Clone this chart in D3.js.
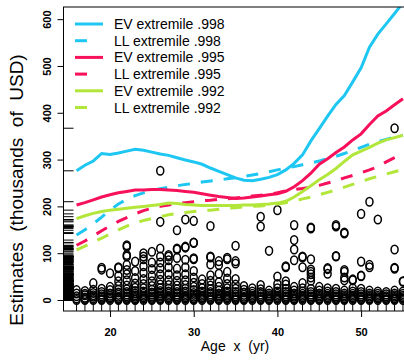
<!DOCTYPE html>
<html>
<head>
<meta charset="utf-8">
<script src="https://cdn.jsdelivr.net/npm/d3@7"></script>
<style>
  body { margin: 0; background: #fff; }
  svg { display: block; font-family: "Liberation Sans", Arial, sans-serif; }
</style>
</head>
<body>
<div id="chart"></div>
<script>
const width = 404;
const height = 364;

// ages of the fitted curves
const ages = d3.range(16, 56);

const ev998 = [276, 288, 297, 313, 311, 314, 318, 322, 320, 316, 312, 309, 304, 299, 295, 290, 282, 275, 268, 261,
  256, 255, 258, 262, 268, 278, 292, 310, 340, 366, 393, 418, 437, 466, 496, 540, 568, 590, 612, 635];
const ll998 = [139, 150, 163, 177, 192, 205, 215, 223, 229, 234, 238, 241, 244, 247, 249, 252, 254, 256, 259, 261,
  264, 267, 270, 274, 278, 282, 285, 289, 293, 297, 302, 307, 313, 319, 326, 333, 338, 343, 348, 352];
const ev995 = [203, 208, 214, 220, 225, 229, 232, 235, 235, 236, 236, 235, 234, 232, 230, 227, 224, 221, 219, 217,
  218, 220, 222, 225, 227, 232, 242, 255, 271, 290, 302, 315, 327, 342, 355, 375, 393, 404, 417, 430];
const ll995 = [117, 126, 137, 148, 158, 168, 176, 184, 191, 196, 200, 203, 206, 208, 210, 212, 213, 215, 216, 218,
  220, 222, 224, 226, 229, 233, 236, 238, 241, 245, 250, 255, 261, 266, 272, 278, 285, 295, 304, 312];
const ev992 = [174, 180, 185, 189, 192, 194, 196, 198, 200, 202, 204, 207, 206, 204, 203, 202, 202, 202, 202, 202,
  203, 203, 204, 205, 207, 211, 220, 232, 244, 257, 268, 281, 296, 310, 318, 326, 335, 342, 347, 352];
const ll992 = [107, 115, 124, 132, 141, 150, 158, 164, 170, 174, 178, 182, 185, 187, 189, 191, 192, 194, 196, 197,
  199, 200, 201, 203, 205, 208, 211, 216, 220, 225, 230, 235, 241, 247, 253, 259, 264, 269, 274, 279];

// observed values (thousands of USD), one list per age 16..55
const obsByAge = [
  [0, 3, 8, 14, 21],
  [0, 2, 5, 10, 13, 19],
  [0, 3, 7, 10, 15, 22, 36],
  [0, 2, 5, 8, 12, 17, 24, 65, 69],
  [0, 3, 6, 9, 14, 21, 28, 57],
  [0, 2, 4, 7, 11, 16, 22, 30, 40, 51, 68, 70],
  [0, 2, 5, 8, 12, 17, 23, 31, 42, 55, 64, 75, 93, 96, 114, 117],
  [0, 1, 4, 7, 10, 14, 19, 26, 35, 47, 62, 82],
  [0, 3, 6, 9, 13, 18, 25, 34, 45, 58, 72, 87, 93, 100],
  [0, 2, 5, 8, 12, 16, 22, 30, 40, 52, 66, 80, 103],
  [0, 2, 4, 7, 10, 14, 19, 25, 33, 43, 55, 68, 80, 93, 110, 167, 276],
  [0, 3, 6, 9, 13, 18, 24, 32, 42, 55, 70, 85, 93, 96],
  [0, 2, 5, 8, 12, 17, 23, 31, 41, 53, 67, 90, 108, 110, 149],
  [0, 3, 6, 9, 13, 18, 24, 32, 42, 55, 70, 86, 112, 114, 172],
  [0, 2, 4, 7, 11, 15, 21, 28, 37, 48, 62, 87, 89, 122, 123, 169],
  [0, 3, 6, 9, 13, 18, 25, 34, 44],
  [0, 2, 5, 8, 12, 17, 23, 31, 41, 53, 76, 91, 93, 158],
  [0, 2, 4, 7, 10, 14, 20, 28, 38, 56, 75, 83],
  [0, 3, 6, 9, 13, 18, 25, 34, 46, 60, 87, 90],
  [0, 2, 5, 8, 12, 17, 24, 33, 45, 78, 83, 116],
  [0, 2, 4, 7, 11, 16, 22, 30],
  [0, 3, 6, 9, 13, 18, 25],
  [0, 2, 5, 8, 12, 17, 23, 32, 157, 178],
  [0, 2, 4, 7, 10, 14, 20, 105],
  [0, 3, 6, 9, 13, 18, 25, 34, 50, 192],
  [0, 2, 5, 8, 12, 17, 24, 33, 40, 70, 72],
  [0, 2, 4, 7, 10, 14, 20, 28, 85, 108, 128, 160],
  [0, 3, 6, 9, 13, 18, 25, 36, 70, 91, 93],
  [0, 2, 5, 8, 12, 17, 24, 41, 48, 55, 60, 65, 87, 153, 155],
  [0, 2, 4, 7, 10, 14, 20, 28],
  [0, 3, 6, 9, 13, 18, 25, 56, 66, 68],
  [0, 2, 5, 8, 12, 17, 24, 93, 94, 157, 160],
  [0, 2, 4, 7, 10, 14, 20, 42, 48, 60, 64, 142, 144],
  [0, 3, 6, 9, 13, 18, 25, 42, 44],
  [0, 2, 5, 8, 12, 17, 24, 51, 52, 82, 184],
  [0, 2, 4, 7, 10, 14, 20, 70, 75, 210],
  [0, 3, 6, 9, 13, 18, 172],
  [0, 2, 5, 8, 12, 17],
  [0, 2, 4, 7, 10, 14, 20, 67, 69, 108, 367],
  [0, 3, 6, 9, 13, 18, 39, 40]
];

const legendLabels = ['EV extremile .998', 'LL extremile .998', 'EV extremile .995',
  'LL extremile .995', 'EV extremile .992', 'LL extremile .992'];
const yTicks = [0, 100, 200, 300, 400, 500, 600];
const xTicks = [20, 30, 40, 50];

const cyan = '#1ec6f2', red = '#f7105a', green = '#b2e63a';
const series = [
  { values: ev998, color: cyan, dashed: false },
  { values: ll998, color: cyan, dashed: true },
  { values: ev995, color: red, dashed: false },
  { values: ll995, color: red, dashed: true },
  { values: ev992, color: green, dashed: false },
  { values: ll992, color: green, dashed: true }
];

const points = [];
obsByAge.forEach((vals, i) => vals.forEach(v => points.push({ age: ages[i], value: v })));

const x = d3.scaleLinear().domain([14.44, 56.56]).range([63.5, 416]);
const y = d3.scaleLinear().domain([-23.5, 626]).range([311, 7]);

const svg = d3.select('#chart').append('svg')
    .attr('width', width)
    .attr('height', height);

svg.append('clipPath').attr('id', 'plot')
  .append('rect')
    .attr('x', x.range()[0]).attr('y', y.range()[1])
    .attr('width', x.range()[1] - x.range()[0])
    .attr('height', y.range()[0] - y.range()[1]);

const plot = svg.append('g').attr('clip-path', 'url(#plot)');

// rugs
plot.append('g')
  .selectAll('line')
  .data(points)
  .join('line')
    .attr('x1', x.range()[0]).attr('x2', x.range()[0] + 10)
    .attr('y1', d => y(d.value)).attr('y2', d => y(d.value))
    .attr('stroke', '#000').attr('stroke-width', 1);

plot.append('g')
  .selectAll('line')
  .data(ages)
  .join('line')
    .attr('x1', d => x(d)).attr('x2', d => x(d))
    .attr('y1', y.range()[0]).attr('y2', y.range()[0] - 9)
    .attr('stroke', '#000').attr('stroke-width', 1);

// observations
plot.append('g')
  .selectAll('ellipse')
  .data(points)
  .join('ellipse')
    .attr('cx', d => x(d.age))
    .attr('cy', d => y(d.value))
    .attr('rx', 3.5).attr('ry', 4.3)
    .attr('fill', 'none')
    .attr('stroke', '#000')
    .attr('stroke-width', 1.5);

// curves
const line = d3.line()
    .x((d, i) => x(ages[i]))
    .y(d => y(d));

plot.append('g')
  .selectAll('path')
  .data(series)
  .join('path')
    .attr('d', d => line(d.values))
    .attr('fill', 'none')
    .attr('stroke', d => d.color)
    .attr('stroke-width', 3)
    .attr('stroke-dasharray', d => d.dashed ? '12,11' : null);

// frame
svg.append('rect')
    .attr('x', x.range()[0]).attr('y', y.range()[1])
    .attr('width', x.range()[1] - x.range()[0])
    .attr('height', y.range()[0] - y.range()[1])
    .attr('fill', 'none').attr('stroke', '#000').attr('stroke-width', 1);

// axes
const yAxis = svg.append('g')
    .attr('transform', `translate(${x.range()[0]},0)`)
    .call(d3.axisLeft(y).tickValues(yTicks).tickSize(6).tickSizeOuter(0).tickPadding(4));
yAxis.select('.domain').remove();
yAxis.selectAll('text')
    .attr('font-weight', 'bold').attr('font-size', 11)
    .attr('font-family', '"Liberation Sans", Arial, sans-serif')
    .attr('text-anchor', 'middle')
    .attr('x', null).attr('dy', null)
    .attr('transform', 'translate(-17,0) rotate(-90)')
    .attr('y', 4);

const xAxis = svg.append('g')
    .attr('transform', `translate(0,${y.range()[0]})`)
    .call(d3.axisBottom(x).tickValues(xTicks).tickSize(6).tickSizeOuter(0).tickPadding(11));
xAxis.select('.domain').remove();
xAxis.selectAll('text')
    .attr('font-weight', 'bold').attr('font-size', 11)
    .attr('font-family', '"Liberation Sans", Arial, sans-serif');

// axis titles
svg.append('text')
    .attr('x', 235).attr('y', 351)
    .attr('text-anchor', 'middle')
    .attr('font-size', 14)
    .style('white-space', 'pre')
    .text('Age  x  (yr)');

svg.append('text')
    .attr('transform', 'translate(23,190) rotate(-90)')
    .attr('text-anchor', 'middle')
    .attr('font-size', 19)
    .style('white-space', 'pre')
    .text('Estimates  (thousands  of  USD)');

// legend
const legend = svg.append('g')
  .selectAll('g')
  .data(series)
  .join('g')
    .attr('transform', (d, i) => `translate(75,${24 + i * 16.7})`);

legend.append('line')
    .attr('x1', 0).attr('x2', d => d.dashed ? 12 : 28)
    .attr('y1', 0).attr('y2', 0)
    .attr('stroke', d => d.color)
    .attr('stroke-width', 3);

legend.append('text')
    .attr('x', 39).attr('y', 5)
    .attr('font-size', 14)
    .text((d, i) => legendLabels[i]);
</script>
</body>
</html>
